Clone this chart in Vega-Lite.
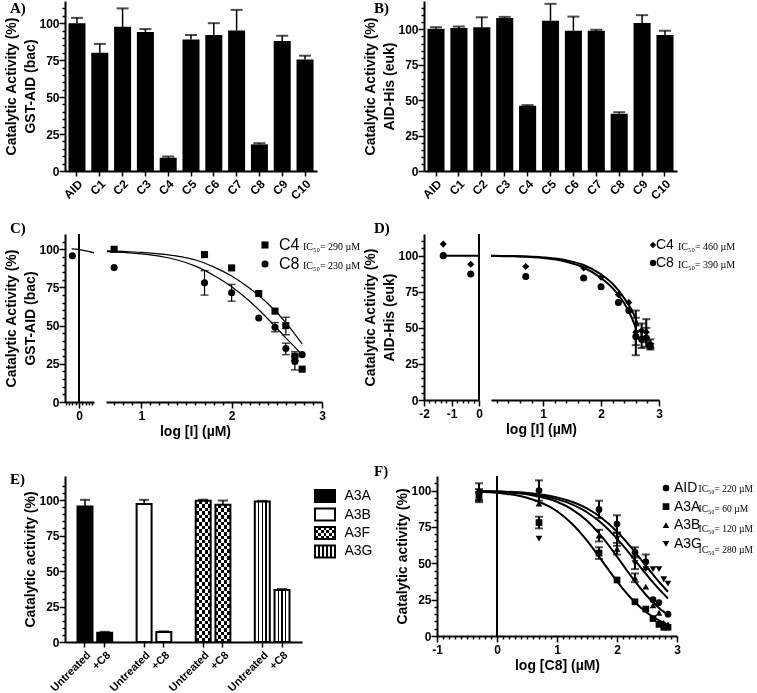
{
"$schema":"https://vega.github.io/schema/vega-lite/v6.json",
"padding":{"left":4,"top":1,"right":0,"bottom":0},
"background":"white",
"config":{
"font":"Liberation Sans",
"view":{"stroke":null},
"axis":{"domainColor":"black","domainWidth":2,"tickColor":"black","tickWidth":1.5,"labelColor":"black","labelFont":"Liberation Sans","labelFontWeight":"bold","labelFontSize":12,"titleFont":"Liberation Sans","titleFontWeight":"bold","titleFontSize":14,"titleColor":"black","grid":false,"labelPadding":2,"labelOverlap":false,"labelFlush":false,"titleLineHeight":19,"titlePadding":3},
"axisY":{"labelPadding":0,"titlePadding":1},
"title":{"font":"Liberation Serif","fontWeight":"bold","fontSize":15,"anchor":"start","frame":"group","offset":0,"baseline":"top","color":"black"},
"legend":{"padding":0,"labelColor":"black","symbolOffset":0}
},
"datasets":{
"A":[{"c":"AID","v":100,"e":103.6},{"c":"C1","v":80,"e":86},{"c":"C2","v":97.5,"e":110},{"c":"C3","v":94,"e":96},{"c":"C4","v":9,"e":9.8},{"c":"C5","v":89,"e":92},{"c":"C6","v":92,"e":100},{"c":"C7","v":95,"e":109},{"c":"C8","v":18,"e":18.8},{"c":"C9","v":88,"e":91.5},{"c":"C10","v":75.5,"e":78}],
"B":[{"c":"AID","v":100.5,"e":101.5},{"c":"C1","v":101,"e":102},{"c":"C2","v":101.5,"e":108.5},{"c":"C3","v":108,"e":108.8},{"c":"C4","v":46,"e":46.5},{"c":"C5","v":106,"e":118},{"c":"C6","v":99,"e":109},{"c":"C7","v":99,"e":99.7},{"c":"C8","v":40.5,"e":41.5},{"c":"C9","v":104.5,"e":110},{"c":"C10","v":96,"e":99}],
"Cl":[{"s":"C8","x":-0.2,"y":95.7}],
"Clc":[{"x":-0.22,"y":100.2},{"x":0.1,"y":99.4},{"x":0.45,"y":97.6}],
"Cr":[{"s":"C4","x":0.7,"y":100},{"s":"C4","x":1.7,"y":96.5},{"s":"C4","x":2.0,"y":87.8},{"s":"C4","x":2.3,"y":71},{"s":"C4","x":2.48,"y":59.5},{"s":"C4","x":2.6,"y":50,"lo":44,"hi":55.5},{"s":"C4","x":2.7,"y":30,"lo":27,"hi":33},{"s":"C4","x":2.78,"y":21.5},
{"s":"C8","x":0.7,"y":88},{"s":"C8","x":1.7,"y":78,"lo":70,"hi":86},{"s":"C8","x":2.0,"y":71.5,"lo":66,"hi":77},{"s":"C8","x":2.3,"y":55},{"s":"C8","x":2.48,"y":49,"lo":46,"hi":52},{"s":"C8","x":2.6,"y":35,"lo":31,"hi":38.5},{"s":"C8","x":2.7,"y":26.5,"lo":21,"hi":30},{"s":"C8","x":2.78,"y":31}],
"Crc":[{"s":"C4","x":0.62,"y":99},{"s":"C4","x":0.8,"y":98.6},{"s":"C4","x":1.0,"y":98},{"s":"C4","x":1.2,"y":97},{"s":"C4","x":1.4,"y":95.5},{"s":"C4","x":1.6,"y":93},{"s":"C4","x":1.8,"y":88.5},{"s":"C4","x":2.0,"y":82.5},{"s":"C4","x":2.2,"y":74.5},{"s":"C4","x":2.4,"y":64.5},{"s":"C4","x":2.6,"y":52},{"s":"C4","x":2.78,"y":38},
{"s":"C8","x":0.62,"y":98.5},{"s":"C8","x":0.8,"y":98},{"s":"C8","x":1.0,"y":97},{"s":"C8","x":1.2,"y":95.5},{"s":"C8","x":1.4,"y":93},{"s":"C8","x":1.6,"y":89},{"s":"C8","x":1.8,"y":83},{"s":"C8","x":2.0,"y":75.5},{"s":"C8","x":2.2,"y":66},{"s":"C8","x":2.4,"y":54.5},{"s":"C8","x":2.6,"y":42},{"s":"C8","x":2.78,"y":31}],
"Cleg":[{"s":"C4","ic":"IC₅₀= 290 µM"},{"s":"C8","ic":"IC₅₀= 230 µM"}],
"Dl":[{"s":"C4","x":-1.3,"y":108},{"s":"C4","x":-0.3,"y":94},{"s":"C8","x":-1.3,"y":100},{"s":"C8","x":-0.3,"y":87.3}],
"Dlc":[{"x":-1.3,"y":100},{"x":0,"y":100}],
"Dr":[{"s":"C4","x":0.7,"y":92.5},{"s":"C4","x":1.7,"y":91.5},{"s":"C4","x":2.0,"y":85},{"s":"C4","x":2.3,"y":73},{"s":"C4","x":2.48,"y":67.5},{"s":"C4","x":2.6,"y":47,"lo":38,"hi":57},{"s":"C4","x":2.7,"y":48,"lo":43,"hi":53},{"s":"C4","x":2.78,"y":47,"lo":40,"hi":56},{"s":"C4","x":2.85,"y":39,"lo":36,"hi":42},
{"s":"C8","x":0.7,"y":85.5},{"s":"C8","x":1.7,"y":84.5},{"s":"C8","x":2.0,"y":78.5},{"s":"C8","x":2.3,"y":67.5},{"s":"C8","x":2.48,"y":62},{"s":"C8","x":2.6,"y":44,"lo":31,"hi":62},{"s":"C8","x":2.7,"y":42,"lo":36,"hi":48},{"s":"C8","x":2.78,"y":43,"lo":37,"hi":50},{"s":"C8","x":2.85,"y":37,"lo":35,"hi":39}],
"Drc":[{"s":"C4","x":0.1,"y":100},{"s":"C4","x":0.5,"y":99.7},{"s":"C4","x":1.0,"y":98.8},{"s":"C4","x":1.4,"y":96.8},{"s":"C4","x":1.7,"y":93.5},{"s":"C4","x":2.0,"y":87},{"s":"C4","x":2.2,"y":80.5},{"s":"C4","x":2.4,"y":70.5},{"s":"C4","x":2.55,"y":60.5},{"s":"C4","x":2.65,"y":51},
{"s":"C8","x":0.1,"y":100},{"s":"C8","x":0.5,"y":99.5},{"s":"C8","x":1.0,"y":98.3},{"s":"C8","x":1.4,"y":95.8},{"s":"C8","x":1.7,"y":91.8},{"s":"C8","x":2.0,"y":84.5},{"s":"C8","x":2.2,"y":77.5},{"s":"C8","x":2.4,"y":67},{"s":"C8","x":2.5,"y":59.5},{"s":"C8","x":2.6,"y":50}],
"Dleg":[{"s":"C4","ic":"IC₅₀= 460 µM"},{"s":"C8","ic":"IC₅₀= 390 µM"}],
"E":[{"g":"A3A","id":"A3A-U","v":95.5,"e":100.2},{"g":"A3A","id":"A3A-C","v":6.6,"e":7.2},{"g":"A3B","id":"A3B-U","v":97.2,"e":100.2},{"g":"A3B","id":"A3B-C","v":7.1,"e":7.5},{"g":"A3F","id":"A3F-U","v":99.5,"e":100.3},{"g":"A3F","id":"A3F-C","v":96.7,"e":99.7},{"g":"A3G","id":"A3G-U","v":99,"e":99.5},{"g":"A3G","id":"A3G-C","v":36.6,"e":37.4}],
"Eleg":[{"g":"A3A"},{"g":"A3B"},{"g":"A3F"},{"g":"A3G"}],
"F":[{"s":"AID","x":-0.3,"y":98,"lo":94,"hi":105},{"s":"AID","x":0.7,"y":100,"lo":93,"hi":107},{"s":"AID","x":1.7,"y":87,"lo":81,"hi":93},{"s":"AID","x":2.0,"y":77,"lo":71,"hi":83},{"s":"AID","x":2.3,"y":57.5,"lo":54,"hi":61},{"s":"AID","x":2.48,"y":51,"lo":46,"hi":56},{"s":"AID","x":2.6,"y":25},{"s":"AID","x":2.7,"y":23},{"s":"AID","x":2.85,"y":15},
{"s":"A3A","x":-0.3,"y":97,"lo":93,"hi":101},{"s":"A3A","x":0.7,"y":78,"lo":74,"hi":82},{"s":"A3A","x":1.7,"y":57,"lo":53,"hi":61},{"s":"A3A","x":2.0,"y":38.5},{"s":"A3A","x":2.3,"y":23.5},{"s":"A3A","x":2.48,"y":18.5},{"s":"A3A","x":2.6,"y":12},{"s":"A3A","x":2.7,"y":8},{"s":"A3A","x":2.78,"y":6},{"s":"A3A","x":2.85,"y":6},
{"s":"A3B","x":-0.3,"y":95,"lo":92,"hi":99},{"s":"A3B","x":0.7,"y":91},{"s":"A3B","x":1.7,"y":69,"lo":65,"hi":73},{"s":"A3B","x":2.0,"y":60,"lo":56,"hi":64},{"s":"A3B","x":2.3,"y":40,"lo":37,"hi":43},{"s":"A3B","x":2.48,"y":34},{"s":"A3B","x":2.6,"y":21},{"s":"A3B","x":2.7,"y":16},{"s":"A3B","x":2.78,"y":9},{"s":"A3B","x":2.85,"y":8},
{"s":"A3G","x":-0.3,"y":99},{"s":"A3G","x":0.7,"y":67},{"s":"A3G","x":1.7,"y":85},{"s":"A3G","x":2.0,"y":67,"lo":62,"hi":71},{"s":"A3G","x":2.3,"y":50,"lo":46,"hi":55},{"s":"A3G","x":2.48,"y":46},{"s":"A3G","x":2.6,"y":46},{"s":"A3G","x":2.7,"y":46},{"s":"A3G","x":2.78,"y":39},{"s":"A3G","x":2.85,"y":36}],
"Fc":[{"s":"AID","x":-0.3,"y":99.6},{"s":"AID","x":0,"y":99.2},{"s":"AID","x":0.5,"y":97.8},{"s":"AID","x":1,"y":94.1},{"s":"AID","x":1.25,"y":90.5},{"s":"AID","x":1.5,"y":85.1},{"s":"AID","x":1.75,"y":77.3},{"s":"AID","x":2,"y":66.9},{"s":"AID","x":2.25,"y":54.6},{"s":"AID","x":2.5,"y":41.8},{"s":"AID","x":2.7,"y":32.2},{"s":"AID","x":2.85,"y":25.8},
{"s":"A3A","x":-0.3,"y":99.2},{"s":"A3A","x":0,"y":98.4},{"s":"A3A","x":0.5,"y":95},{"s":"A3A","x":1,"y":85.8},{"s":"A3A","x":1.25,"y":77.2},{"s":"A3A","x":1.5,"y":65.6},{"s":"A3A","x":1.75,"y":51.7},{"s":"A3A","x":2,"y":37.6},{"s":"A3A","x":2.25,"y":25.3},{"s":"A3A","x":2.5,"y":16},{"s":"A3A","x":2.7,"y":10.7},{"s":"A3A","x":2.85,"y":7.8},
{"s":"A3B","x":-0.3,"y":99.6},{"s":"A3B","x":0,"y":99.2},{"s":"A3B","x":0.5,"y":97.4},{"s":"A3B","x":1,"y":92.3},{"s":"A3B","x":1.25,"y":87.1},{"s":"A3B","x":1.5,"y":79.2},{"s":"A3B","x":1.75,"y":68.1},{"s":"A3B","x":2,"y":54.6},{"s":"A3B","x":2.25,"y":40.3},{"s":"A3B","x":2.5,"y":27.5},{"s":"A3B","x":2.7,"y":19.3},{"s":"A3B","x":2.85,"y":14.5},
{"s":"A3G","x":-0.3,"y":99.7},{"s":"A3G","x":0,"y":99.4},{"s":"A3G","x":0.5,"y":98.3},{"s":"A3G","x":1,"y":95.3},{"s":"A3G","x":1.25,"y":92.3},{"s":"A3G","x":1.5,"y":87.7},{"s":"A3G","x":1.75,"y":81},{"s":"A3G","x":2,"y":71.8},{"s":"A3G","x":2.25,"y":60.2},{"s":"A3G","x":2.5,"y":47.4},{"s":"A3G","x":2.7,"y":37.3},{"s":"A3G","x":2.85,"y":30.4}],
"Fleg":[{"s":"AID","ic":"IC₅₀= 220 µM"},{"s":"A3A","ic":"IC₅₀= 60 µM"},{"s":"A3B","ic":"IC₅₀= 120 µM"},{"s":"A3G","ic":"IC₅₀= 280 µM"}]
},
"spacing":19,
"resolve":{"scale":{"shape":"independent","color":"independent"}},
"vconcat":[
{"bounds":"flush","spacing":107,"resolve":{"scale":{"shape":"independent","color":"independent"}},
"hconcat":[
{"width":252,"height":170,"title":{"text":"A)","dx":-55,"dy":19},"data":{"name":"A"},
"layer":[
{"mark":{"type":"bar","color":"black"},"encoding":{"x":{"field":"c","type":"nominal","sort":null,"scale":{"paddingInner":0.254,"paddingOuter":0.152},"axis":{"title":null,"labelAngle":-45,"tickSize":5,"labelOverlap":false}},"y":{"field":"v","type":"quantitative","scale":{"domain":[0,115],"nice":false},"axis":{"title":["Catalytic Activity (%)","GST-AID (bac)"],"tickCount":200,"labelOverlap":false,"values":[0,5,10,15,20,25,30,35,40,45,50,55,60,65,70,75,80,85,90,95,100,105,110],"labelExpr":"datum.value % 25 === 0 ? '' + datum.value : ''","tickSize":{"condition":{"test":"datum.value % 25 === 0","value":6},"value":3}}}}},
{"mark":{"type":"rule","color":"black","strokeWidth":1.5},"encoding":{"x":{"field":"c","type":"nominal","sort":null},"y":{"field":"v","type":"quantitative"},"y2":{"field":"e"}}},
{"mark":{"type":"tick","color":"black","size":12,"thickness":2,"orient":"horizontal"},"encoding":{"x":{"field":"c","type":"nominal","sort":null},"y":{"field":"e","type":"quantitative"}}}
]},
{"width":253,"height":170,"title":{"text":"B)","dx":-50,"dy":19},"data":{"name":"B"},
"layer":[
{"mark":{"type":"bar","color":"black"},"encoding":{"x":{"field":"c","type":"nominal","sort":null,"scale":{"paddingInner":0.254,"paddingOuter":0.152},"axis":{"title":null,"labelAngle":-45,"tickSize":5,"labelOverlap":false}},"y":{"field":"v","type":"quantitative","scale":{"domain":[0,120],"nice":false},"axis":{"title":["Catalytic Activity (%)","AID-His (euk)"],"tickCount":200,"labelOverlap":false,"values":[0,5,10,15,20,25,30,35,40,45,50,55,60,65,70,75,80,85,90,95,100,105,110,115],"labelExpr":"datum.value % 25 === 0 ? '' + datum.value : ''","tickSize":{"condition":{"test":"datum.value % 25 === 0","value":6},"value":3}}}}},
{"mark":{"type":"rule","color":"black","strokeWidth":1.5},"encoding":{"x":{"field":"c","type":"nominal","sort":null},"y":{"field":"v","type":"quantitative"},"y2":{"field":"e"}}},
{"mark":{"type":"tick","color":"black","size":12,"thickness":2,"orient":"horizontal"},"encoding":{"x":{"field":"c","type":"nominal","sort":null},"y":{"field":"e","type":"quantitative"}}}
]}
]},
{"spacing":26,"resolve":{"scale":{"shape":"independent","color":"independent"}},
"vconcat":[
{"bounds":"flush","spacing":12,"resolve":{"scale":{"shape":"independent","color":"independent"}},
"hconcat":[
{"width":29,"height":168,"title":{"text":"C)","dx":-55,"dy":7},
"layer":[
{"data":{"name":"Clc"},"mark":{"type":"line","color":"black","strokeWidth":1.2,"interpolate":"monotone"},"encoding":{"x":{"field":"x","type":"quantitative","scale":{"domain":[-0.42,0.45],"nice":false,"zero":false},"axis":{"title":null,"tickCount":200,"labelOverlap":false,"values":[-0.4,-0.3,-0.2,-0.1,0,0.1,0.2,0.3,0.4],"labelExpr":"abs(datum.value) < 0.001 ? '0' : ''","tickSize":{"condition":{"test":"abs(datum.value) < 0.001","value":6},"value":3}}},"y":{"field":"y","type":"quantitative","scale":{"domain":[0,110],"nice":false},"axis":{"title":["Catalytic Activity (%)","GST-AID (bac)"],"tickCount":200,"labelOverlap":false,"values":[0,5,10,15,20,25,30,35,40,45,50,55,60,65,70,75,80,85,90,95,100,105],"labelExpr":"datum.value % 25 === 0 ? '' + datum.value : ''","tickSize":{"condition":{"test":"datum.value % 25 === 0","value":6},"value":3}}}}},
{"data":{"values":[{}]},"mark":{"type":"rule","color":"black","strokeWidth":2},"encoding":{"x":{"datum":0,"type":"quantitative"}}},
{"data":{"name":"Cl"},"mark":{"type":"point","shape":"circle","filled":true,"color":"black","size":50,"opacity":1},"encoding":{"x":{"field":"x","type":"quantitative"},"y":{"field":"y","type":"quantitative"}}}
]},
{"width":216,"height":168,
"layer":[
{"data":{"name":"Crc"},"mark":{"type":"line","color":"black","strokeWidth":1.2,"interpolate":"monotone"},"encoding":{"x":{"field":"x","type":"quantitative","scale":{"domain":[0.61,3],"nice":false,"zero":false},"axis":{"title":"log [I] (µM)","titleX":89,"tickCount":200,"labelOverlap":false,"values":[0.7,0.8,0.9,1,1.1,1.2,1.3,1.4,1.5,1.6,1.7,1.8,1.9,2,2.1,2.2,2.3,2.4,2.5,2.6,2.7,2.8,2.9,3],"labelExpr":"abs(datum.value - round(datum.value)) < 0.001 ? '' + datum.value : ''","tickSize":{"condition":{"test":"abs(datum.value - round(datum.value)) < 0.001","value":6},"value":3}}},"y":{"field":"y","type":"quantitative","scale":{"domain":[0,110],"nice":false},"axis":null},"detail":{"field":"s"}}},
{"data":{"name":"Cr"},"transform":[{"filter":"isValid(datum.lo)"}],"mark":{"type":"rule","color":"black","strokeWidth":1.2},"encoding":{"x":{"field":"x","type":"quantitative"},"y":{"field":"lo","type":"quantitative"},"y2":{"field":"hi"}}},
{"data":{"name":"Cr"},"transform":[{"filter":"isValid(datum.lo)"}],"mark":{"type":"tick","color":"black","orient":"horizontal","size":8,"thickness":1.5},"encoding":{"x":{"field":"x","type":"quantitative"},"y":{"field":"lo","type":"quantitative"}}},
{"data":{"name":"Cr"},"transform":[{"filter":"isValid(datum.lo)"}],"mark":{"type":"tick","color":"black","orient":"horizontal","size":8,"thickness":1.5},"encoding":{"x":{"field":"x","type":"quantitative"},"y":{"field":"hi","type":"quantitative"}}},
{"data":{"name":"Cr"},"mark":{"type":"point","filled":true,"color":"black","size":50,"opacity":1},"encoding":{"x":{"field":"x","type":"quantitative"},"y":{"field":"y","type":"quantitative"},"shape":{"field":"s","type":"nominal","scale":{"domain":["C4","C8"],"range":["square","circle"]},"legend":{"orient":"none","legendX":151,"legendY":3,"title":null,"labelFont":"Liberation Sans","labelFontSize":16,"labelFontWeight":"normal","symbolSize":50,"symbolFillColor":"black","symbolStrokeColor":"black","rowPadding":3,"labelOffset":6,"padding":0}}}},
{"data":{"name":"Cleg"},"mark":{"type":"point","opacity":0},"encoding":{"color":{"field":"ic","type":"nominal","scale":{"domain":["IC₅₀= 290 µM","IC₅₀= 230 µM"],"range":["black","black"]},"legend":{"orient":"none","legendX":187,"legendY":7.5,"title":null,"labelFont":"Liberation Serif","labelFontSize":10,"labelFontWeight":"normal","symbolOpacity":0,"symbolSize":1,"labelOffset":0,"rowPadding":9,"padding":0}}}}
]},
{"width":78,"height":10,"data":{"values":[{}]},"mark":{"type":"point","opacity":0},"encoding":{}},
{"width":55,"height":166,"title":{"text":"D)","dx":-50,"dy":7},
"layer":[
{"data":{"name":"Dlc"},"mark":{"type":"line","color":"black","strokeWidth":2},"encoding":{"x":{"field":"x","type":"quantitative","scale":{"domain":[-2,0],"nice":false,"zero":false},"axis":{"title":null,"tickCount":200,"labelOverlap":false,"values":[-2,-1.8,-1.6,-1.4,-1.2,-1,-0.8,-0.6,-0.4,-0.2,0],"labelExpr":"abs(datum.value - round(datum.value)) < 0.001 ? '' + datum.value : ''","tickSize":{"condition":{"test":"abs(datum.value - round(datum.value)) < 0.001","value":6},"value":3}}},"y":{"field":"y","type":"quantitative","scale":{"domain":[0,115],"nice":false},"axis":{"title":["Catalytic  Activity (%)","AID-His (euk)"],"tickCount":200,"labelOverlap":false,"values":[0,5,10,15,20,25,30,35,40,45,50,55,60,65,70,75,80,85,90,95,100,105,110],"labelExpr":"datum.value % 25 === 0 ? '' + datum.value : ''","tickSize":{"condition":{"test":"datum.value % 25 === 0","value":6},"value":3}}}}},
{"data":{"values":[{}]},"mark":{"type":"rule","color":"black","strokeWidth":2},"encoding":{"x":{"datum":0,"type":"quantitative"}}},
{"data":{"name":"Dl"},"mark":{"type":"point","filled":true,"color":"black","size":50,"opacity":1},"encoding":{"x":{"field":"x","type":"quantitative"},"y":{"field":"y","type":"quantitative"},"shape":{"field":"s","type":"nominal","scale":{"domain":["C4","C8"],"range":["diamond","circle"]},"legend":null}}}
]},
{"width":168,"height":166,
"layer":[
{"data":{"name":"Drc"},"mark":{"type":"line","color":"black","strokeWidth":2,"interpolate":"monotone"},"encoding":{"x":{"field":"x","type":"quantitative","scale":{"domain":[0.1,3],"nice":false,"zero":false},"axis":{"title":"log [I] (µM)","titleX":50,"tickCount":200,"labelOverlap":false,"values":[0.2,0.4,0.6,0.8,1,1.2,1.4,1.6,1.8,2,2.2,2.4,2.6,2.8,3],"labelExpr":"abs(datum.value - round(datum.value)) < 0.001 ? '' + datum.value : ''","tickSize":{"condition":{"test":"abs(datum.value - round(datum.value)) < 0.001","value":6},"value":3}}},"y":{"field":"y","type":"quantitative","scale":{"domain":[0,115],"nice":false},"axis":null},"detail":{"field":"s"}}},
{"data":{"name":"Dr"},"transform":[{"filter":"isValid(datum.lo)"}],"mark":{"type":"rule","color":"black","strokeWidth":2},"encoding":{"x":{"field":"x","type":"quantitative"},"y":{"field":"lo","type":"quantitative"},"y2":{"field":"hi"}}},
{"data":{"name":"Dr"},"transform":[{"filter":"isValid(datum.lo)"}],"mark":{"type":"tick","color":"black","orient":"horizontal","size":8,"thickness":2},"encoding":{"x":{"field":"x","type":"quantitative"},"y":{"field":"lo","type":"quantitative"}}},
{"data":{"name":"Dr"},"transform":[{"filter":"isValid(datum.lo)"}],"mark":{"type":"tick","color":"black","orient":"horizontal","size":8,"thickness":2},"encoding":{"x":{"field":"x","type":"quantitative"},"y":{"field":"hi","type":"quantitative"}}},
{"data":{"name":"Dr"},"mark":{"type":"point","filled":true,"color":"black","size":50,"opacity":1},"encoding":{"x":{"field":"x","type":"quantitative"},"y":{"field":"y","type":"quantitative"},"shape":{"field":"s","type":"nominal","scale":{"domain":["C4","C8"],"range":["diamond","circle"]},"legend":{"orient":"none","legendX":155,"legendY":4,"title":null,"labelFont":"Liberation Sans","labelFontSize":14,"labelFontWeight":"normal","symbolSize":40,"symbolFillColor":"black","symbolStrokeColor":"black","rowPadding":4,"labelOffset":-4,"padding":0}}}},
{"data":{"name":"Dleg"},"mark":{"type":"point","opacity":0},"encoding":{"color":{"field":"ic","type":"nominal","scale":{"domain":["IC₅₀= 460 µM","IC₅₀= 390 µM"],"range":["black","black"]},"legend":{"orient":"none","legendX":177,"legendY":7.5,"title":null,"labelFont":"Liberation Serif","labelFontSize":10,"labelFontWeight":"normal","symbolOpacity":0,"symbolSize":1,"labelOffset":0,"rowPadding":8,"padding":0}}}}
]}
]},
{"bounds":"flush","spacing":13,"resolve":{"scale":{"shape":"independent","color":"independent"}},
"hconcat":[
{"width":237,"height":166,"title":{"text":"E)","dx":-55,"dy":15},"data":{"name":"E"},
"layer":[
{"transform":[{"filter":"datum.g==='A3A'"}],"mark":{"type":"bar","fill":"black","stroke":"black","strokeWidth":2},"encoding":{"x":{"field":"id","type":"nominal","scale":{"domain":["A3A-U","A3A-C","g1","A3B-U","A3B-C","g2","A3F-U","A3F-C","g3","A3G-U","A3G-C"],"paddingInner":0.24,"paddingOuter":0.635},"axis":{"title":null,"labelOverlap":false,"labelFontSize":11,"values":["A3A-U","A3A-C","A3B-U","A3B-C","A3F-U","A3F-C","A3G-U","A3G-C"],"labelExpr":"indexof(datum.value,'-U')>=0 ? 'Untreated' : '+C8'","labelAngle":-45,"tickSize":5}},"y":{"field":"v","type":"quantitative","scale":{"domain":[0,117],"nice":false},"axis":{"title":["","Catalytic activity (%)"],"tickCount":200,"labelOverlap":false,"values":[0,5,10,15,20,25,30,35,40,45,50,55,60,65,70,75,80,85,90,95,100,105,110],"labelExpr":"datum.value % 25 === 0 ? '' + datum.value : ''","tickSize":{"condition":{"test":"datum.value % 25 === 0","value":6},"value":3}}}}},
{"transform":[{"filter":"datum.g==='A3B'"}],"mark":{"type":"bar","fill":"white","stroke":"black","strokeWidth":2},"encoding":{"x":{"field":"id","type":"nominal"},"y":{"field":"v","type":"quantitative"}}},
{"transform":[{"filter":"datum.g==='A3F'"}],"mark":{"type":"bar","strokeWidth":0,"fill":{"gradient":"linear","x1":0,"y1":0,"x2":1,"y2":0,"stops":[{"offset":0,"color":"black"},{"offset":0.2,"color":"black"},{"offset":0.2,"color":"white"},{"offset":0.4,"color":"white"},{"offset":0.4,"color":"black"},{"offset":0.6,"color":"black"},{"offset":0.6,"color":"white"},{"offset":0.8,"color":"white"},{"offset":0.8,"color":"black"},{"offset":1,"color":"black"}]}},"encoding":{"x":{"field":"id","type":"nominal"},"y":{"field":"v","type":"quantitative"}}},
{"transform":[{"filter":"datum.g==='A3F'"}],"mark":{"type":"bar","strokeWidth":0,"blend":"difference","fill":{"gradient":"linear","x1":0,"y1":0,"x2":0,"y2":1,"stops":[
{"offset":0,"color":"#fff"},{"offset":0.025,"color":"#fff"},{"offset":0.025,"color":"rgba(255,255,255,0)"},{"offset":0.05,"color":"rgba(255,255,255,0)"},
{"offset":0.05,"color":"#fff"},{"offset":0.075,"color":"#fff"},{"offset":0.075,"color":"rgba(255,255,255,0)"},{"offset":0.1,"color":"rgba(255,255,255,0)"},
{"offset":0.1,"color":"#fff"},{"offset":0.125,"color":"#fff"},{"offset":0.125,"color":"rgba(255,255,255,0)"},{"offset":0.15,"color":"rgba(255,255,255,0)"},
{"offset":0.15,"color":"#fff"},{"offset":0.175,"color":"#fff"},{"offset":0.175,"color":"rgba(255,255,255,0)"},{"offset":0.2,"color":"rgba(255,255,255,0)"},
{"offset":0.2,"color":"#fff"},{"offset":0.225,"color":"#fff"},{"offset":0.225,"color":"rgba(255,255,255,0)"},{"offset":0.25,"color":"rgba(255,255,255,0)"},
{"offset":0.25,"color":"#fff"},{"offset":0.275,"color":"#fff"},{"offset":0.275,"color":"rgba(255,255,255,0)"},{"offset":0.3,"color":"rgba(255,255,255,0)"},
{"offset":0.3,"color":"#fff"},{"offset":0.325,"color":"#fff"},{"offset":0.325,"color":"rgba(255,255,255,0)"},{"offset":0.35,"color":"rgba(255,255,255,0)"},
{"offset":0.35,"color":"#fff"},{"offset":0.375,"color":"#fff"},{"offset":0.375,"color":"rgba(255,255,255,0)"},{"offset":0.4,"color":"rgba(255,255,255,0)"},
{"offset":0.4,"color":"#fff"},{"offset":0.425,"color":"#fff"},{"offset":0.425,"color":"rgba(255,255,255,0)"},{"offset":0.45,"color":"rgba(255,255,255,0)"},
{"offset":0.45,"color":"#fff"},{"offset":0.475,"color":"#fff"},{"offset":0.475,"color":"rgba(255,255,255,0)"},{"offset":0.5,"color":"rgba(255,255,255,0)"},
{"offset":0.5,"color":"#fff"},{"offset":0.525,"color":"#fff"},{"offset":0.525,"color":"rgba(255,255,255,0)"},{"offset":0.55,"color":"rgba(255,255,255,0)"},
{"offset":0.55,"color":"#fff"},{"offset":0.575,"color":"#fff"},{"offset":0.575,"color":"rgba(255,255,255,0)"},{"offset":0.6,"color":"rgba(255,255,255,0)"},
{"offset":0.6,"color":"#fff"},{"offset":0.625,"color":"#fff"},{"offset":0.625,"color":"rgba(255,255,255,0)"},{"offset":0.65,"color":"rgba(255,255,255,0)"},
{"offset":0.65,"color":"#fff"},{"offset":0.675,"color":"#fff"},{"offset":0.675,"color":"rgba(255,255,255,0)"},{"offset":0.7,"color":"rgba(255,255,255,0)"},
{"offset":0.7,"color":"#fff"},{"offset":0.725,"color":"#fff"},{"offset":0.725,"color":"rgba(255,255,255,0)"},{"offset":0.75,"color":"rgba(255,255,255,0)"},
{"offset":0.75,"color":"#fff"},{"offset":0.775,"color":"#fff"},{"offset":0.775,"color":"rgba(255,255,255,0)"},{"offset":0.8,"color":"rgba(255,255,255,0)"},
{"offset":0.8,"color":"#fff"},{"offset":0.825,"color":"#fff"},{"offset":0.825,"color":"rgba(255,255,255,0)"},{"offset":0.85,"color":"rgba(255,255,255,0)"},
{"offset":0.85,"color":"#fff"},{"offset":0.875,"color":"#fff"},{"offset":0.875,"color":"rgba(255,255,255,0)"},{"offset":0.9,"color":"rgba(255,255,255,0)"},
{"offset":0.9,"color":"#fff"},{"offset":0.925,"color":"#fff"},{"offset":0.925,"color":"rgba(255,255,255,0)"},{"offset":0.95,"color":"rgba(255,255,255,0)"},
{"offset":0.95,"color":"#fff"},{"offset":0.975,"color":"#fff"},{"offset":0.975,"color":"rgba(255,255,255,0)"},{"offset":1,"color":"rgba(255,255,255,0)"}]}},"encoding":{"x":{"field":"id","type":"nominal"},"y":{"field":"v","type":"quantitative"}}},
{"transform":[{"filter":"datum.g==='A3F'"}],"mark":{"type":"bar","fill":"transparent","stroke":"black","strokeWidth":2},"encoding":{"x":{"field":"id","type":"nominal"},"y":{"field":"v","type":"quantitative"}}},
{"transform":[{"filter":"datum.g==='A3G'"}],"mark":{"type":"bar","stroke":"black","strokeWidth":2,"fill":{"gradient":"linear","x1":0,"y1":0,"x2":1,"y2":0,"stops":[{"offset":0,"color":"white"},{"offset":0.21,"color":"white"},{"offset":0.21,"color":"black"},{"offset":0.29,"color":"black"},{"offset":0.29,"color":"white"},{"offset":0.46,"color":"white"},{"offset":0.46,"color":"black"},{"offset":0.54,"color":"black"},{"offset":0.54,"color":"white"},{"offset":0.71,"color":"white"},{"offset":0.71,"color":"black"},{"offset":0.79,"color":"black"},{"offset":0.79,"color":"white"},{"offset":1,"color":"white"}]}},"encoding":{"x":{"field":"id","type":"nominal"},"y":{"field":"v","type":"quantitative"}}},
{"mark":{"type":"rule","color":"black","strokeWidth":1.5},"encoding":{"x":{"field":"id","type":"nominal"},"y":{"field":"v","type":"quantitative"},"y2":{"field":"e"}}},
{"mark":{"type":"tick","color":"black","size":10,"thickness":2,"orient":"horizontal"},"encoding":{"x":{"field":"id","type":"nominal"},"y":{"field":"e","type":"quantitative"}}}
]},
{"width":20,"height":95.5,"data":{"name":"Eleg"},
"layer":[
{"transform":[{"filter":"datum.g==='A3A'"}],"mark":{"type":"bar","fill":"black","stroke":"black","strokeWidth":2},"encoding":{"y":{"field":"g","type":"nominal","scale":{"domain":["A3A","A3B","A3F","A3G"],"paddingInner":0.35,"paddingOuter":0.757},"axis":{"orient":"right","title":null,"domain":false,"ticks":false,"labelFontWeight":"normal","labelFontSize":14,"labelPadding":9}}}},
{"transform":[{"filter":"datum.g==='A3B'"}],"mark":{"type":"bar","fill":"white","stroke":"black","strokeWidth":2},"encoding":{"y":{"field":"g","type":"nominal"}}},
{"transform":[{"filter":"datum.g==='A3F'"}],"mark":{"type":"bar","strokeWidth":0,"fill":{"gradient":"linear","x1":0,"y1":0,"x2":1,"y2":0,"stops":[{"offset":0,"color":"black"},{"offset":0.1429,"color":"black"},{"offset":0.1429,"color":"white"},{"offset":0.2857,"color":"white"},{"offset":0.2857,"color":"black"},{"offset":0.4286,"color":"black"},{"offset":0.4286,"color":"white"},{"offset":0.5714,"color":"white"},{"offset":0.5714,"color":"black"},{"offset":0.7143,"color":"black"},{"offset":0.7143,"color":"white"},{"offset":0.8571,"color":"white"},{"offset":0.8571,"color":"black"},{"offset":1,"color":"black"}]}},"encoding":{"y":{"field":"g","type":"nominal"}}},
{"transform":[{"filter":"datum.g==='A3F'"}],"mark":{"type":"bar","strokeWidth":0,"blend":"difference","fill":{"gradient":"linear","x1":0,"y1":0,"x2":0,"y2":1,"stops":[{"offset":0,"color":"#fff"},{"offset":0.25,"color":"#fff"},{"offset":0.25,"color":"rgba(255,255,255,0)"},{"offset":0.5,"color":"rgba(255,255,255,0)"},{"offset":0.5,"color":"#fff"},{"offset":0.75,"color":"#fff"},{"offset":0.75,"color":"rgba(255,255,255,0)"},{"offset":1,"color":"rgba(255,255,255,0)"}]}},"encoding":{"y":{"field":"g","type":"nominal"}}},
{"transform":[{"filter":"datum.g==='A3F'"}],"mark":{"type":"bar","fill":"transparent","stroke":"black","strokeWidth":2},"encoding":{"y":{"field":"g","type":"nominal"}}},
{"transform":[{"filter":"datum.g==='A3G'"}],"mark":{"type":"bar","stroke":"black","strokeWidth":2,"fill":{"gradient":"linear","x1":0,"y1":0,"x2":1,"y2":0,"stops":[{"offset":0,"color":"white"},{"offset":0.17,"color":"white"},{"offset":0.17,"color":"black"},{"offset":0.23,"color":"black"},{"offset":0.23,"color":"white"},{"offset":0.37,"color":"white"},{"offset":0.37,"color":"black"},{"offset":0.43,"color":"black"},{"offset":0.43,"color":"white"},{"offset":0.57,"color":"white"},{"offset":0.57,"color":"black"},{"offset":0.63,"color":"black"},{"offset":0.63,"color":"white"},{"offset":0.77,"color":"white"},{"offset":0.77,"color":"black"},{"offset":0.83,"color":"black"},{"offset":0.83,"color":"white"},{"offset":1,"color":"white"}]}},"encoding":{"y":{"field":"g","type":"nominal"}}}
]},
{"width":76,"height":10,"data":{"values":[{}]},"mark":{"type":"point","opacity":0},"encoding":{}},
{"width":240,"height":160,"title":{"text":"F)","dx":-63,"dy":8},
"layer":[
{"data":{"name":"Fc"},"mark":{"type":"line","color":"black","strokeWidth":2,"interpolate":"monotone"},"encoding":{"x":{"field":"x","type":"quantitative","scale":{"domain":[-1,3],"nice":false,"zero":false},"axis":{"title":"log [C8] (µM)","tickCount":200,"labelOverlap":false,"values":[-1,-0.9,-0.8,-0.7,-0.6,-0.5,-0.4,-0.3,-0.2,-0.1,0,0.1,0.2,0.3,0.4,0.5,0.6,0.7,0.8,0.9,1,1.1,1.2,1.3,1.4,1.5,1.6,1.7,1.8,1.9,2,2.1,2.2,2.3,2.4,2.5,2.6,2.7,2.8,2.9,3],"labelExpr":"abs(datum.value - round(datum.value)) < 0.001 ? '' + datum.value : ''","tickSize":{"condition":{"test":"abs(datum.value - round(datum.value)) < 0.001","value":6},"value":3}}},"y":{"field":"y","type":"quantitative","scale":{"domain":[0,110],"nice":false},"axis":{"title":"Catalytic activity (%)","tickCount":200,"labelOverlap":false,"values":[0,5,10,15,20,25,30,35,40,45,50,55,60,65,70,75,80,85,90,95,100,105],"labelExpr":"datum.value % 25 === 0 ? '' + datum.value : ''","tickSize":{"condition":{"test":"datum.value % 25 === 0","value":6},"value":3}}},"detail":{"field":"s"}}},
{"data":{"values":[{}]},"mark":{"type":"rule","color":"black","strokeWidth":2},"encoding":{"x":{"datum":0,"type":"quantitative"}}},
{"data":{"name":"F"},"transform":[{"filter":"isValid(datum.lo)"}],"mark":{"type":"rule","color":"black","strokeWidth":2},"encoding":{"x":{"field":"x","type":"quantitative"},"y":{"field":"lo","type":"quantitative"},"y2":{"field":"hi"}}},
{"data":{"name":"F"},"transform":[{"filter":"isValid(datum.lo)"}],"mark":{"type":"tick","color":"black","orient":"horizontal","size":8,"thickness":2},"encoding":{"x":{"field":"x","type":"quantitative"},"y":{"field":"lo","type":"quantitative"}}},
{"data":{"name":"F"},"transform":[{"filter":"isValid(datum.lo)"}],"mark":{"type":"tick","color":"black","orient":"horizontal","size":8,"thickness":2},"encoding":{"x":{"field":"x","type":"quantitative"},"y":{"field":"hi","type":"quantitative"}}},
{"data":{"name":"F"},"mark":{"type":"point","filled":true,"color":"black","size":45,"opacity":1},"encoding":{"x":{"field":"x","type":"quantitative"},"y":{"field":"y","type":"quantitative"},"shape":{"field":"s","type":"nominal","scale":{"domain":["AID","A3A","A3B","A3G"],"range":["circle","square","triangle-up","triangle-down"]},"legend":{"orient":"none","legendX":222,"legendY":5,"title":null,"labelFont":"Liberation Sans","labelFontSize":14,"labelFontWeight":"normal","symbolSize":45,"symbolFillColor":"black","symbolStrokeColor":"black","rowPadding":4.6,"labelOffset":1,"padding":0}}}},
{"data":{"name":"Fleg"},"mark":{"type":"point","opacity":0},"encoding":{"color":{"field":"ic","type":"nominal","scale":{"domain":["IC₅₀= 220 µM","IC₅₀= 60 µM","IC₅₀= 120 µM","IC₅₀= 280 µM"],"range":["black","black","black","black"]},"legend":{"orient":"none","legendX":252,"legendY":8.5,"title":null,"labelFont":"Liberation Serif","labelFontSize":9.5,"labelFontWeight":"normal","symbolOpacity":0,"symbolSize":1,"labelOffset":0,"rowPadding":9.1,"padding":0}}}}
]}
]}
]}
]
}
